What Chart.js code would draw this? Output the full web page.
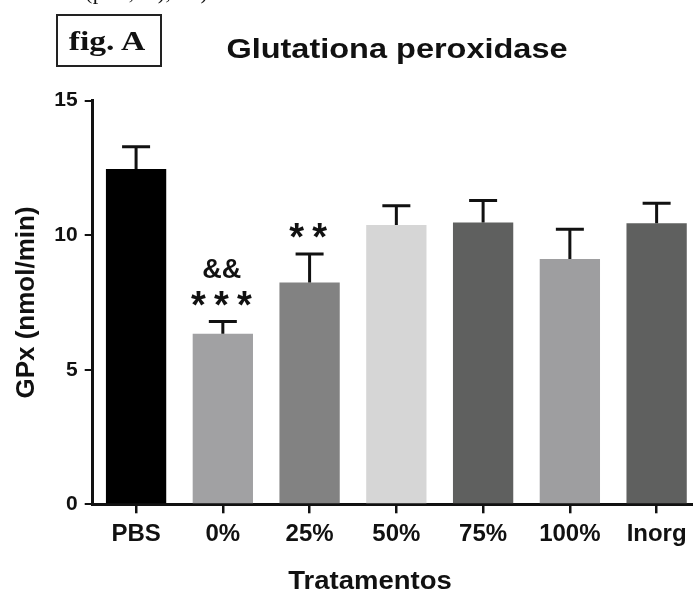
<!DOCTYPE html>
<html><head><meta charset="utf-8">
<script src="https://cdn.jsdelivr.net/npm/chart.js@4"></script>
<style>
html,body{margin:0;padding:0;background:#fff;overflow:hidden;width:693px;height:590px}
#wrap{position:relative;width:705px;height:590px;overflow:hidden}
canvas{position:absolute;left:0;top:0}
.t{position:absolute;white-space:nowrap;line-height:1;color:#111}
#note{left:85px;top:-21.5px;font:22px "Liberation Serif","Times New Roman",serif;letter-spacing:0.5px}
#figbox{position:absolute;left:56px;top:14px;width:106px;height:53px;box-sizing:border-box;border:2.5px solid #222}
#fig{left:59px;width:96px;text-align:center;top:24.5px;font:bold 28px "Liberation Serif","Times New Roman",serif;transform:scaleX(1.2);transform-origin:center}
#title{left:197px;width:400px;text-align:center;top:33px;font:bold 28px "Liberation Sans",Arial,sans-serif;transform:scaleX(1.16);transform-origin:center}
#xtitle{left:270px;width:200px;text-align:center;top:566px;font:bold 25px "Liberation Sans",Arial,sans-serif;transform:scaleX(1.1);transform-origin:center}
</style></head><body>
<div id="wrap">
<canvas id="c" width="705" height="590"></canvas>
<div class="t" id="note">(p&lt;0,05), **)</div>
<div id="figbox"></div>
<div class="t" id="fig">fig. A</div>
<div class="t" id="title"></div>
<div class="t" id="xtitle"></div>
</div>
<script>
// ---- data ----
const categories = ['PBS', '0%', '25%', '50%', '75%', '100%', 'Inorg'];
const means = [12.46, 6.34, 8.24, 10.38, 10.47, 9.12, 10.45];
const sems = [0.83, 0.45, 1.06, 0.72, 0.82, 1.10, 0.74];
const starLabels = ['', '***', '**', '', '', '', ''];
const ampLabels = ['', '&&', '', '', '', '', ''];
const yTickValues = [0, 5, 10, 15];
const chartTitle = 'Glutationa peroxidase';
const yTitle = 'GPx (nmol/min)';
const xTitle = 'Tratamentos';

document.getElementById('title').textContent = chartTitle;
document.getElementById('xtitle').textContent = xTitle;

const barColors = ['#000000', '#a1a1a3', '#828282', '#d6d6d6', '#5f605f', '#9e9ea0', '#5f605f'];

function centerText(ctx, txt, x, cy) {
  const m = ctx.measureText(txt);
  const base = cy + (m.actualBoundingBoxAscent - m.actualBoundingBoxDescent) / 2;
  ctx.fillText(txt, x, base);
}

const errorBarPlugin = {
  id: 'errorBars',
  afterDatasetsDraw(chart) {
    const ctx = chart.ctx;
    const xs = chart.scales.x, ys = chart.scales.y;
    ctx.save();
    ctx.strokeStyle = '#111';
    ctx.fillStyle = '#111';
    ctx.lineWidth = 3;
    means.forEach((m, i) => {
      const x = xs.getPixelForValue(i);
      const yTop = ys.getPixelForValue(m);
      const yCap = ys.getPixelForValue(m + sems[i]);
      ctx.beginPath();
      ctx.moveTo(x, yTop);
      ctx.lineTo(x, yCap);
      ctx.moveTo(x - 14, yCap);
      ctx.lineTo(x + 14, yCap);
      ctx.stroke();
      ctx.textAlign = 'center';
      ctx.textBaseline = 'alphabetic';
      if (starLabels[i]) {
        ctx.font = 'bold 38px "Liberation Sans", Arial, sans-serif';
        const n = starLabels[i].length;
        const pitch = 23;
        for (let k = 0; k < n; k++) {
          centerText(ctx, starLabels[i][k], x + (k - (n - 1) / 2) * pitch - 1.5, yCap - 23.5);
        }
      }
      if (ampLabels[i]) {
        ctx.font = 'bold 27px "Liberation Sans", Arial, sans-serif';
        centerText(ctx, ampLabels[i], x - 1, yCap - 52.7);
      }
    });
    ctx.restore();
  }
};

new Chart(document.getElementById('c'), {
  type: 'bar',
  data: {
    labels: categories,
    datasets: [{
      data: means,
      backgroundColor: barColors,
      borderWidth: 0,
      categoryPercentage: 1,
      barPercentage: 0.695
    }]
  },
  options: {
    responsive: false,
    animation: false,
    layout: { padding: { top: 100.7, right: 5, bottom: 0, left: 0 } },
    plugins: { legend: { display: false }, tooltip: { enabled: false }, title: { display: false } },
    scales: {
      x: {
        type: 'category',
        offset: true,
        grid: { display: true, offset: false, drawOnChartArea: false, drawTicks: true, tickLength: 9, color: '#111', lineWidth: 2.5 },
        border: { display: true, color: '#111', width: 3 },
        ticks: { color: '#111', font: { family: '"Liberation Sans", Arial, sans-serif', size: 24, weight: 'bold' }, padding: 7, maxRotation: 0, autoSkip: false },
        afterFit(s) { s.height = 85.7; }
      },
      y: {
        min: 0, max: 15,
        afterBuildTicks(s) { s.ticks = yTickValues.map(v => ({ value: v })); },
        grid: { display: true, drawOnChartArea: false, drawTicks: true, tickLength: 8, color: '#111', lineWidth: 2 },
        border: { display: true, color: '#111', width: 3 },
        ticks: { color: '#111', font: { family: '"Liberation Sans", Arial, sans-serif', size: 21, weight: 'bold' }, padding: 7 },
        title: { display: true, text: yTitle, color: '#111', font: { family: '"Liberation Sans", Arial, sans-serif', size: 26, weight: 'bold' }, padding: { top: 11, bottom: 0 } },
        afterFit(s) { s.width = 92.7; }
      }
    }
  },
  plugins: [errorBarPlugin]
});
</script>
</body></html>
